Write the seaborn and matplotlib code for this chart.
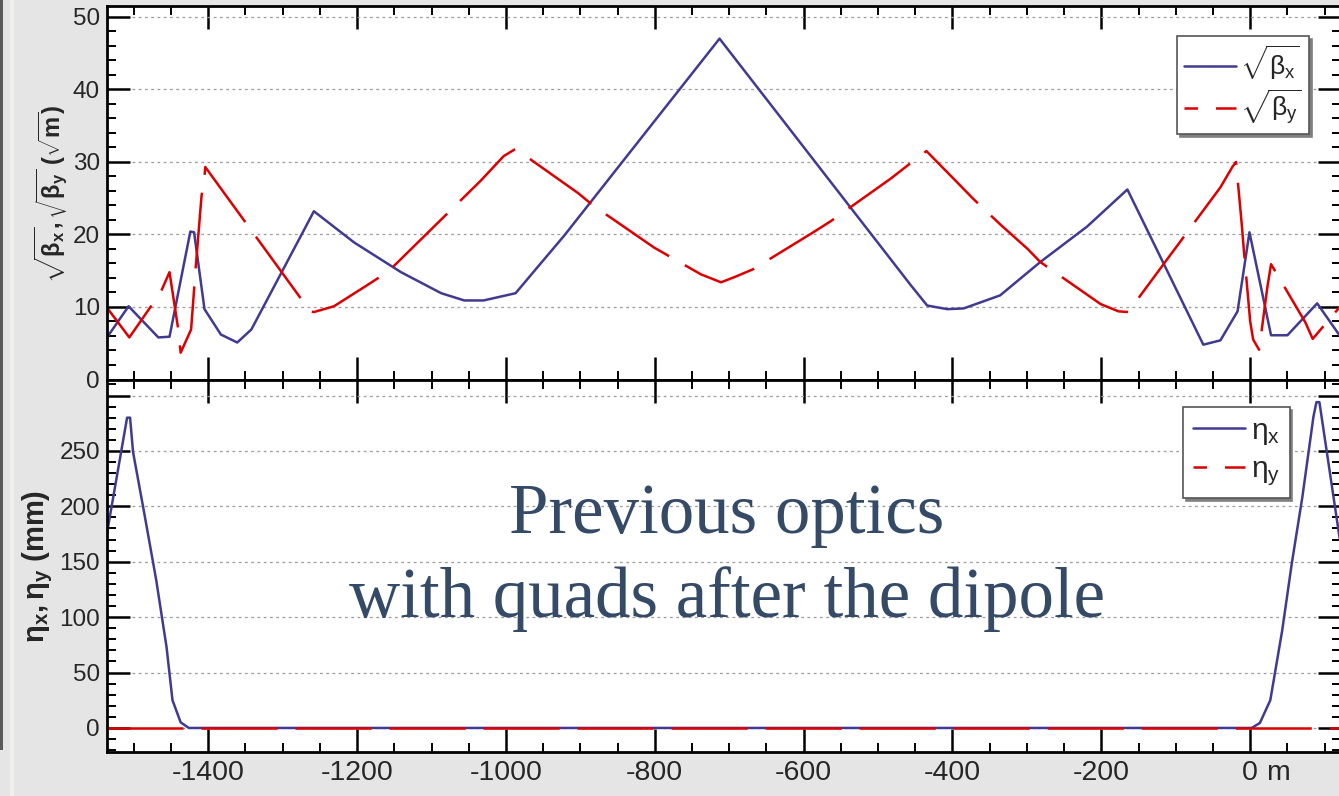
import numpy as np
import matplotlib
matplotlib.use("Agg")
import matplotlib.pyplot as plt
import matplotlib.transforms as mtransforms
from matplotlib.lines import Line2D
from matplotlib.patches import Rectangle
from matplotlib.ticker import MultipleLocator
import seaborn as sns

# ---- optics functions along the beam line (s in m) ----
s_betx = [-1536, -1507, -1467, -1452, -1424, -1419, -1405, -1383, -1361, -1342,
          -1258, -1204, -1141, -1087, -1056, -1030, -987, -955, -922, -713,
          -456, -434, -407, -385, -336, -282, -219, -165, -63, -40, -17, -1,
          28, 50, 90, 122]
sqrt_betx = [5.8, 10.1, 5.8, 5.9, 20.4, 20.3, 9.7, 6.2, 5.1, 6.9,
             23.2, 18.9, 14.8, 11.9, 10.9, 10.9, 11.9, 15.8, 19.8, 47.0,
             13.0, 10.2, 9.7, 9.8, 11.6, 16.2, 21.1, 26.2, 4.8, 5.4, 9.4, 20.3,
             6.1, 6.1, 10.5, 5.8]

s_bety = [-1536, -1506, -1464, -1452, -1441, -1437, -1423, -1419, -1417, -1409,
          -1405, -1404, -1263, -1258, -1231, -1185, -1158, -1034, -1003, -987,
          -903, -883, -801, -779, -738, -711, -691, -668, -587, -564, -483,
          -463, -435, -391, -372, -336, -299, -282, -201, -177, -164, -40,
          -24, -19, -11, -9, 0, 4, 12, 23, 28, 74, 84, 122]
sqrt_bety = [9.9, 5.8, 12.0, 14.8, 7.4, 3.7, 6.9, 12.4, 15.2, 25.3,
             27.9, 29.3, 9.4, 9.3, 10.1, 13.1, 14.9, 27.4, 30.8, 31.8,
             25.7, 24.0, 18.2, 16.9, 14.5, 13.4, 14.2, 15.2, 20.3, 21.8, 27.7,
             29.3, 31.5, 26.9, 24.9, 21.4, 18.0, 16.2, 10.4, 9.4, 9.3, 26.5,
             29.3, 30.0, 21.0, 18.4, 8.0, 5.5, 4.1, 12.7, 15.9, 7.9, 5.6, 10.2]

s_dx = [-1536, -1509, -1505, -1501, -1486, -1470, -1456, -1448, -1437, -1426,
        2, 13, 27, 43, 56, 70, 85, 89, 93, 122]
eta_x = [176, 280, 280, 249, 194, 134, 73, 25, 5, 0,
         0, 4.5, 25, 88, 149, 208, 281, 294, 294, 163]

s_dy = [-1536, 122]
eta_y = [0, 0]

x_major = [-1400, -1200, -1000, -800, -600, -400, -200, 0]
x_labels = ["-1400", "-1200", "-1000", "-800", "-600", "-400", "-200", "0"]
beta_ticks = [0, 10, 20, 30, 40, 50]
beta_labels = ["0", "10", "20", "30", "40", "50"]
eta_ticks = [0, 50, 100, 150, 200, 250, 300]
eta_labels = ["0", "50", "100", "150", "200", "250", ""]

BLUE = "#403a92"
RED = "#dc0000"
LW = 1.8
DASH = (0, (54.7, 13.0))

sns.set_theme(style="white")
plt.rcParams["font.family"] = ["Liberation Sans", "DejaVu Sans"]
plt.rcParams["mathtext.fontset"] = "custom"
plt.rcParams["mathtext.rm"] = "Liberation Sans"
plt.rcParams["mathtext.it"] = "Liberation Sans:italic"
plt.rcParams["mathtext.bf"] = "Liberation Sans:bold"
plt.rcParams["mathtext.default"] = "regular"
plt.rcParams["axes.unicode_minus"] = False
plt.rcParams["lines.scale_dashes"] = False

W, H = 1339, 796
fig = plt.figure(figsize=(W / 100, H / 100), dpi=100)
fig.patch.set_facecolor("#e5e5e5")

ax1 = fig.add_axes([107 / W, 1 - 379.5 / H, 1234 / W, 373.5 / H])
ax2 = fig.add_axes([107 / W, 1 - 752 / H, 1234 / W, 372 / H])

# beta functions
sns.lineplot(x=s_betx, y=sqrt_betx, ax=ax1, color=BLUE, lw=LW,
             estimator=None, sort=False)
sns.lineplot(x=s_bety, y=sqrt_bety, ax=ax1, color=RED, lw=LW,
             linestyle=DASH, estimator=None, sort=False)

# dispersion
sns.lineplot(x=s_dx, y=eta_x, ax=ax2, color=BLUE, lw=LW,
             estimator=None, sort=False)
sns.lineplot(x=s_dy, y=eta_y, ax=ax2, color=RED, lw=LW,
             linestyle=DASH, estimator=None, sort=False)

ax1.set_xlim(-1536, 122)
ax2.set_xlim(-1536, 122)
ax1.set_ylim(0, 51.5)
ax2.set_ylim(-21.7, 314)

for ax in (ax1, ax2):
    ax.set_facecolor("white")
    ax.set_xticks(x_major)
    ax.xaxis.set_minor_locator(MultipleLocator(50))
    ax.tick_params(which="both", direction="in", top=True, right=True,
                   bottom=True, left=True, color="black")
    ax.tick_params(which="major", length=16.5, width=1.8)
    ax.tick_params(which="minor", length=6.5, width=1.4)
    for sp in ax.spines.values():
        sp.set_linewidth(2.0)
        sp.set_color("black")
    ax.grid(axis="y", which="major", color="#9c9c9c",
            linestyle=(0, (2, 2.5)), linewidth=0.9)
    ax.grid(axis="x", visible=False)
    ax.set_axisbelow(True)
    ax.set_xlabel("")
    ax.set_ylabel("")

ax1.set_yticks(beta_ticks, labels=beta_labels)
ax1.yaxis.set_minor_locator(MultipleLocator(2))
ax1.tick_params(labelbottom=False)
ax1.tick_params(axis="y", labelsize=17.5, pad=5)

ax2.set_yticks(eta_ticks, labels=eta_labels)
ax2.yaxis.set_minor_locator(MultipleLocator(10))
ax2.set_xticks(x_major, labels=x_labels)
ax2.tick_params(axis="y", labelsize=17.5, pad=5)
ax2.tick_params(axis="x", labelsize=20.5, pad=6)

# unit after the last x label
trans = mtransforms.blended_transform_factory(ax2.transData, ax2.transAxes)
ax2.text(22, -6 / 72 * 100 / 372, "m", transform=trans, ha="left", va="top",
         fontsize=20.5)

# axis titles
fig.text(51 / W, 1 - 194 / H,
         r"$\sqrt{\beta_{x}},\sqrt{\beta_{y}}$ ($\sqrt{m}$)",
         rotation=90, ha="center", va="center", fontsize=17,
         fontweight="bold")
fig.text(38 / W, 1 - 566 / H, r"$\eta_{x}, \eta_{y}$ (mm)",
         rotation=90, ha="center", va="center", fontsize=21,
         fontweight="bold")

# legends
h_solid = Line2D([], [], color=BLUE, lw=LW)
h_dash = Line2D([], [], color=RED, lw=LW, linestyle=(45, (54.7, 13.0)))
leg_kw = dict(loc="upper left", borderaxespad=0, frameon=True,
              fancybox=False, shadow={"color": "#808080", "alpha": 1.0},
              framealpha=1, edgecolor="#555555")
leg1 = ax1.legend([h_solid, h_dash],
                  [r"$\sqrt{\beta_{x}}$", r"$\sqrt{\beta_{y}}$"],
                  bbox_to_anchor=(0.867, 0.9197), fontsize=19,
                  handlelength=1.97, handletextpad=0.15, borderpad=0.28,
                  labelspacing=0.22, **leg_kw)
leg1.get_frame().set_linewidth(1.2)
leg2 = ax2.legend([h_solid, h_dash],
                  [r"$\eta_{x}$", r"$\eta_{y}$"],
                  bbox_to_anchor=(0.872, 0.9274), fontsize=21.5,
                  handlelength=1.75, handletextpad=0.2, borderpad=0.32,
                  labelspacing=0.3, **leg_kw)
leg2.get_frame().set_linewidth(1.2)

# caption over the lower panel
cap_kw = dict(ha="center", va="baseline", fontsize=51,
              family="Liberation Serif", color="#344a66")
fig.text(727 / W, 1 - 533 / H, "Previous optics", **cap_kw)
fig.text(727 / W, 1 - 617 / H, "with quads after the dipole", **cap_kw)

# page edge strip on the left
fig.add_artist(Rectangle((0, 1 - 750 / H), 2.5 / W, 750 / H,
                         transform=fig.transFigure, color="#5a5a5a", lw=0))
fig.add_artist(Rectangle((10 / W, 0), 4 / W, 1,
                         transform=fig.transFigure, color="#f2f0eb", lw=0))

fig.savefig("out.png", dpi=100, facecolor=fig.get_facecolor())
